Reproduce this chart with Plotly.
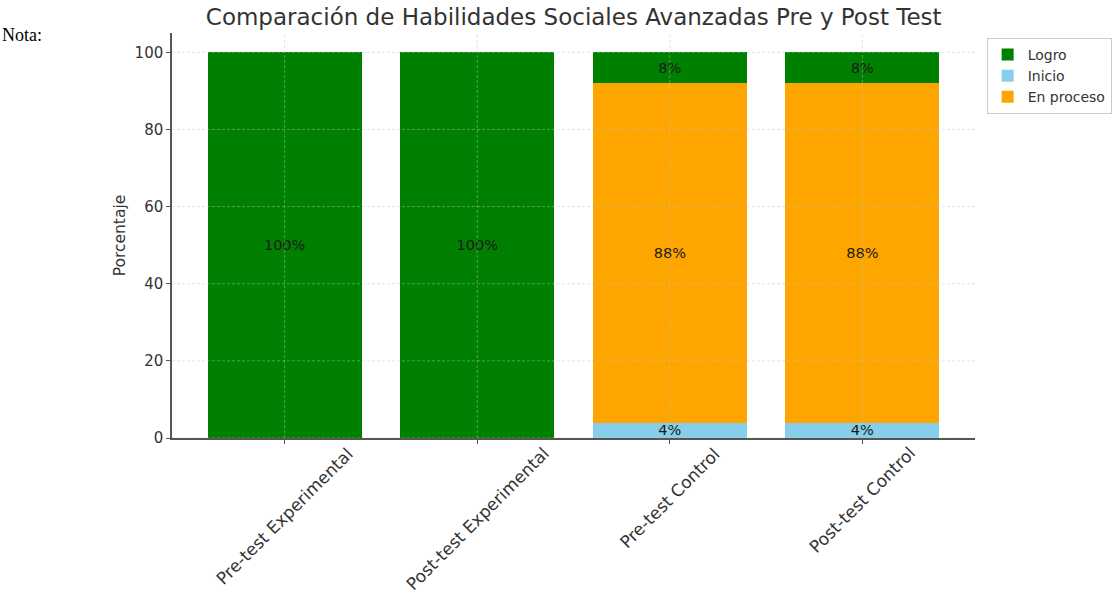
import plotly.graph_objects as go

categories = ["Pre-test Experimental", "Post-test Experimental", "Pre-test Control", "Post-test Control"]
inicio = [0, 0, 4, 4]
en_proceso = [0, 0, 88, 88]
logro = [100, 100, 8, 8]
y_ticks = [0, 20, 40, 60, 80, 100]

def labels(vals):
    return [f"{v}%" if v > 0 else "" for v in vals]

xpos = list(range(len(categories)))
fig = go.Figure()
series = [
    ("Inicio", inicio, "#87CEEB", 2),
    ("En proceso", en_proceso, "#FFA500", 3),
    ("Logro", logro, "#008000", 1),
]
for name, vals, color, rank in series:
    fig.add_trace(go.Bar(
        x=xpos, y=vals, name=name,
        marker=dict(color=color, line=dict(width=0)),
        text=labels(vals), textposition="inside", insidetextanchor="middle",
        textangle=0,
        textfont=dict(family="DejaVu Sans", size=14.5, color="#1a1a1a"),
        legendrank=rank, width=0.8,
    ))

fig.update_layout(
    barmode="stack",
    width=1114, height=594,
    margin=dict(l=172, r=139, t=33, b=156, autoexpand=False),
    paper_bgcolor="white", plot_bgcolor="white",
    font=dict(family="DejaVu Sans", color="#333333"),
    title=dict(text="Comparación de Habilidades Sociales Avanzadas Pre y Post Test",
               x=0.515, xanchor="center", y=0.972, yanchor="middle",
               font=dict(size=23, color="#333333")),
    legend=dict(x=1.0145, y=0.988, xanchor="left", yanchor="top",
                bordercolor="#cccccc", borderwidth=1,
                font=dict(size=14, color="#333333"), traceorder="normal",
                tracegroupgap=0),
    showlegend=True,
    uniformtext=dict(mode="show", minsize=14),
)
fig.update_xaxes(
    range=[-0.585, 3.585], tickmode="array", tickvals=xpos,
    ticktext=["" for _ in categories], showgrid=False,
    showline=True, linecolor="#555555", linewidth=1.5,
    ticks="outside", ticklen=4, tickcolor="#555555", layer="above traces",
    zeroline=False, automargin=False,
)
fig.update_yaxes(
    range=[0, 105], tickvals=y_ticks,
    tickfont=dict(size=15, color="#333333"),
    title=dict(text="Porcentaje", font=dict(size=15.5, color="#333333"), standoff=5),
    showgrid=False,
    showline=True, linecolor="#555555", linewidth=1.5,
    ticks="outside", ticklen=4, tickcolor="#555555", layer="above traces",
    zeroline=False, automargin=False,
)
# grid lines drawn above bars (as in the original)
grid_line = dict(color="rgba(195,195,195,0.55)", width=0.8, dash="3px,2px")
for yv in y_ticks:
    fig.add_shape(type="line", xref="paper", yref="y", x0=0, x1=1, y0=yv, y1=yv,
                  layer="above", line=grid_line)
for xv in xpos:
    fig.add_shape(type="line", xref="x", yref="paper", x0=xv, x1=xv, y0=0, y1=1,
                  layer="above", line=grid_line)
# rotated category labels, centred under each tick
for xv, lab in zip(xpos, categories):
    fig.add_annotation(text=lab, xref="x", yref="paper", x=xv, y=0, xanchor="center",
                       yanchor="top", textangle=-45, showarrow=False, yshift=-4,
                       borderpad=0, font=dict(size=17, color="#333333"))
fig.add_annotation(text="Nota:", xref="paper", yref="paper", x=-172/803, y=0.995,
                   xanchor="left", yanchor="middle", showarrow=False,
                   font=dict(family="Liberation Serif", size=18, color="black"))
fig.write_html("out.html", config={"displayModeBar": False},
               post_script="document.body.style.margin='0';")
